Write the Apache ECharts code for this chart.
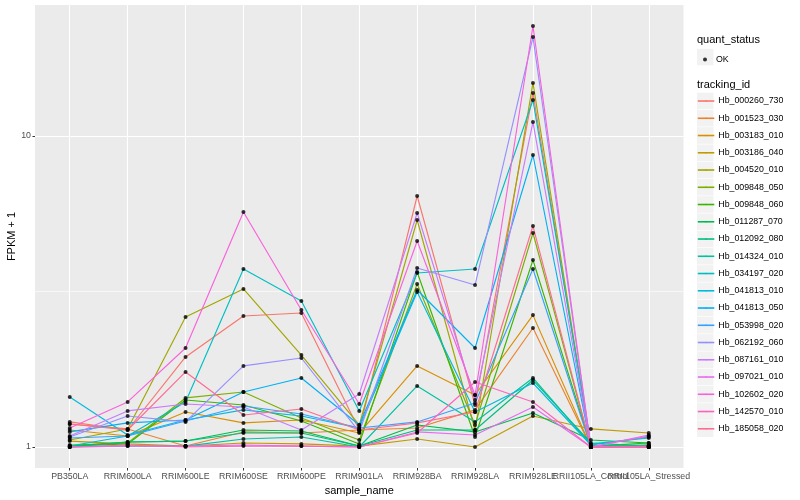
<!DOCTYPE html>
<html>
<head>
<meta charset="utf-8">
<script src="https://cdn.jsdelivr.net/npm/echarts@6/dist/echarts.min.js"></script>
<style>html,body{margin:0;padding:0;background:#fff;}#chart{width:800px;height:500px;}</style>
</head>
<body>
<div id="chart"></div>
<script>
// ---- data (FPKM + 1) ----
const categories = ['PB350LA','RRIM600LA','RRIM600LE','RRIM600SE','RRIM600PE','RRIM901LA','RRIM928BA','RRIM928LA','RRIM928LE','RRII105LA_Control','RRII105LA_Stressed'];
const yTickValues = [1, 10];
const yMinorValues = [3.1623];

const Hb_000260_730 = [1.204, 1.134, 1.948, 2.637, 2.697, 1.134, 6.413, 1.365, 13.75, 1.0, 1.0];
const Hb_001523_030 = [1.186, 1.143, 1.007, 1.118, 1.109, 1.134, 1.151, 1.316, 2.413, 1.0, 1.0];
const Hb_003183_010 = [1.134, 1.085, 1.296, 1.195, 1.221, 1.109, 1.823, 1.470, 2.655, 1.0, 1.007];
const Hb_003186_040 = [1.045, 1.023, 1.007, 1.030, 1.023, 1.007, 1.061, 1.0, 1.258, 1.143, 1.109];
const Hb_004520_010 = [1.053, 1.143, 2.618, 3.222, 1.976, 1.177, 5.370, 1.134, 14.81, 1.007, 1.015];
const Hb_009848_050 = [1.015, 1.030, 1.438, 1.503, 1.240, 1.053, 3.343, 1.177, 4.877, 1.0, 1.015];
const Hb_009848_060 = [1.007, 1.023, 1.416, 1.365, 1.212, 1.023, 3.653, 1.077, 3.994, 1.007, 1.030];
const Hb_011287_070 = [1.007, 1.038, 1.045, 1.134, 1.126, 1.007, 1.177, 1.118, 1.286, 1.053, 1.030];
const Hb_012092_080 = [1.0, 1.038, 1.045, 1.109, 1.109, 1.007, 1.134, 1.134, 1.642, 1.030, 1.007];
const Hb_014324_010 = [1.0, 1.007, 1.007, 1.061, 1.077, 1.0, 1.572, 1.204, 1.667, 1.015, 1.0];
const Hb_034197_020 = [1.007, 1.085, 1.396, 3.736, 2.948, 1.306, 3.627, 3.736, 13.05, 1.023, 1.069];
const Hb_041813_010 = [1.449, 1.093, 1.221, 1.316, 1.258, 1.151, 3.151, 1.296, 1.606, 1.015, 1.077];
const Hb_041813_050 = [1.118, 1.195, 1.221, 1.503, 1.667, 1.177, 3.198, 2.081, 8.688, 1.0, 1.007];
const Hb_053998_020 = [1.069, 1.085, 1.212, 1.355, 1.277, 1.151, 1.204, 1.385, 3.736, 1.0, 1.007];
const Hb_062192_060 = [1.077, 1.258, 1.204, 1.823, 1.933, 1.118, 3.764, 3.318, 20.81, 1.0, 1.0];
const Hb_087161_010 = [1.085, 1.306, 1.375, 1.345, 1.134, 1.481, 5.654, 1.416, 11.09, 1.0, 1.0];
const Hb_097021_010 = [1.0, 1.007, 1.007, 1.015, 1.007, 1.0, 1.118, 1.093, 1.345, 1.0, 1.093];
const Hb_102602_020 = [1.151, 1.396, 2.081, 5.696, 2.757, 1.375, 4.597, 1.470, 22.58, 1.0, 1.085];
const Hb_142570_010 = [1.0, 1.015, 1.0, 1.007, 1.007, 1.0, 1.109, 1.618, 1.396, 1.0, 1.0];
const Hb_185058_020 = [1.186, 1.134, 1.743, 1.267, 1.325, 1.134, 1.195, 1.296, 5.135, 1.0, 1.0];

const trackingIds = ['Hb_000260_730','Hb_001523_030','Hb_003183_010','Hb_003186_040','Hb_004520_010','Hb_009848_050','Hb_009848_060','Hb_011287_070','Hb_012092_080','Hb_014324_010','Hb_034197_020','Hb_041813_010','Hb_041813_050','Hb_053998_020','Hb_062192_060','Hb_087161_010','Hb_097021_010','Hb_102602_020','Hb_142570_010','Hb_185058_020'];
const seriesValues = [Hb_000260_730,Hb_001523_030,Hb_003183_010,Hb_003186_040,Hb_004520_010,Hb_009848_050,Hb_009848_060,Hb_011287_070,Hb_012092_080,Hb_014324_010,Hb_034197_020,Hb_041813_010,Hb_041813_050,Hb_053998_020,Hb_062192_060,Hb_087161_010,Hb_097021_010,Hb_102602_020,Hb_142570_010,Hb_185058_020];

// ---- styles ----
const colors = ['#F8766D','#EA8331','#D89000','#C09B00','#A3A500','#7CAE00','#39B600','#00BB4E','#00BF7D','#00C1A3','#00BFC4','#00BAE0','#00B0F6','#35A2FF','#9590FF','#C77CFF','#E76BF3','#FA62DB','#FF62BC','#FF6C91'];
const FONT = 'Liberation Sans, Arial, Helvetica, sans-serif';
const yMin = Math.pow(10, -21/311), yMax = Math.pow(10, 442/311);
const xTicks = categories.map((c, i) => i + 1);
// labels split over two axes so that overlapping neighbours are both drawn (as in the original)
const xLabelsOdd = xTicks.filter(v => v % 2 === 1);
const xLabelsEven = xTicks.filter(v => v % 2 === 0);

const lineSeries = trackingIds.map((name, k) => ({
  name: name, type: 'line', symbol: 'none', color: colors[k],
  lineStyle: { width: 1.15, color: colors[k] },
  data: seriesValues[k].map((v, i) => [i + 1, v]),
  z: 2
}));
const allPoints = [];
seriesValues.forEach(arr => arr.forEach((v, i) => allPoints.push([i + 1, v])));

const legendTop = 101, legendStep = 17.25;
const graphics = [
  { type: 'text', left: 697, top: 34, style: { text: 'quant_status', font: '11px ' + FONT, fill: '#000' } },
  { type: 'rect', shape: { x: 697, y: 48.8, width: 16.5, height: 16.5 }, style: { fill: '#F2F2F2' } },
  { type: 'text', left: 697, top: 79, style: { text: 'tracking_id', font: '11px ' + FONT, fill: '#000' } }
];
trackingIds.forEach((n, k) => {
  graphics.push({ type: 'rect', shape: { x: 697, y: legendTop + k * legendStep - 8.3, width: 16.5, height: 16.6 }, style: { fill: '#F2F2F2' } });
});

const xLabelStyle = () => ({ fontSize: 8.8, color: '#4D4D4D', margin: 4, fontFamily: FONT,
  showMinLabel: true, showMaxLabel: true, hideOverlap: false,
  formatter: v => categories[Math.round(v) - 1] || '' });

const chart = echarts.init(document.getElementById('chart'), null, { renderer: 'canvas' });
chart.setOption({
  animation: false,
  backgroundColor: '#FFFFFF',
  textStyle: { fontFamily: FONT },
  grid: { left: 35, right: 116.5, top: 5, bottom: 32, show: true, backgroundColor: '#EBEBEB', borderWidth: 0,
    containLabel: false, outerBoundsMode: 'none' },
  graphic: graphics,
  xAxis: [{
    type: 'value', min: 0.4, max: 11.6,
    name: 'sample_name', nameLocation: 'middle', nameGap: 15,
    nameTextStyle: { fontSize: 11, color: '#000', fontFamily: FONT },
    axisLine: { show: false },
    axisTick: { show: true, length: 2.5, customValues: xTicks, lineStyle: { color: '#333333', width: 1 } },
    axisLabel: Object.assign(xLabelStyle(), { customValues: xLabelsOdd }),
    splitLine: { show: true, lineStyle: { color: '#FFFFFF', width: 1.1 } }
  }, {
    type: 'value', min: 0.4, max: 11.6, position: 'bottom',
    axisLine: { show: false },
    axisTick: { show: false, customValues: xLabelsEven },
    axisLabel: Object.assign(xLabelStyle(), { customValues: xLabelsEven }),
    splitLine: { show: false }
  }],
  yAxis: [{
    type: 'log', logBase: 10, min: yMin, max: yMax,
    name: 'FPKM + 1', nameLocation: 'middle', nameGap: 17.5, nameRotate: 90, nameMoveOverlap: false,
    nameTextStyle: { fontSize: 11, color: '#000', fontFamily: FONT },
    axisLine: { show: false },
    axisTick: { show: true, length: 2.5, customValues: yTickValues, lineStyle: { color: '#333333', width: 1 } },
    axisLabel: { customValues: yTickValues, fontSize: 8.8, color: '#4D4D4D', margin: 4, fontFamily: FONT,
      showMinLabel: true, showMaxLabel: true,
      formatter: v => String(Math.round(v)) },
    splitLine: { show: true, lineStyle: { color: '#FFFFFF', width: 1.1 } },
    minorSplitLine: { show: false }
  }, {
    type: 'log', logBase: 10, min: yMin, max: yMax, position: 'left',
    axisLine: { show: false }, axisLabel: { show: false },
    axisTick: { show: false, customValues: yMinorValues },
    splitLine: { show: true, lineStyle: { color: '#FFFFFF', width: 0.6 } }
  }],
  legend: [{
    data: ['OK'], left: 703, top: 55, padding: 0, itemWidth: 4, itemHeight: 4, icon: 'circle',
    textStyle: { fontSize: 8.8, color: '#000', fontFamily: FONT, padding: [0, 0, 0, 4] },
    selectedMode: false
  }, {
    data: trackingIds, orient: 'vertical', left: 697, top: legendTop - 8.6, padding: 0,
    itemWidth: 16.5, itemHeight: 2, itemGap: 0, selectedMode: false,
    lineStyle: { width: 1.6 },
    textStyle: { fontSize: 8.8, color: '#000', fontFamily: FONT, lineHeight: legendStep, padding: [0, 0, 0, -1] }
  }],
  series: lineSeries.concat([{
    name: 'OK', type: 'scatter', symbol: 'circle', symbolSize: 4,
    itemStyle: { color: '#000000' }, data: allPoints, z: 5, silent: true
  }])
});
</script>
</body>
</html>
